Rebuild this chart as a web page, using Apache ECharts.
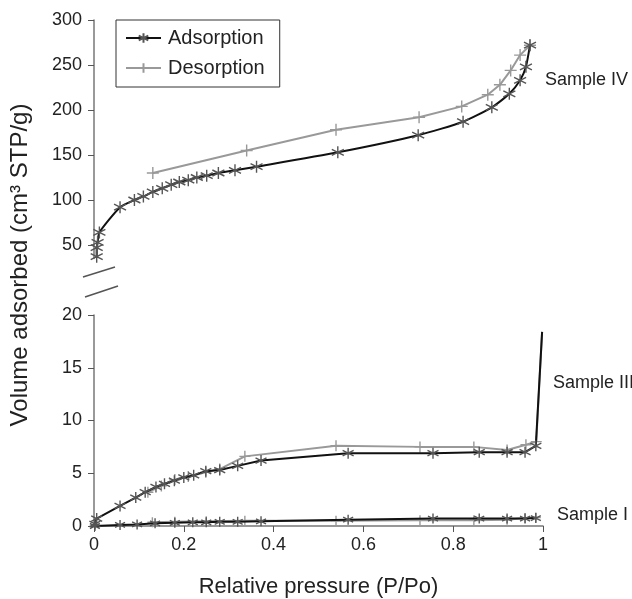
<!DOCTYPE html>
<html>
<head>
<meta charset="utf-8">
<script src="https://cdn.jsdelivr.net/npm/echarts@6/dist/echarts.min.js"></script>
<style>
  html, body { margin: 0; padding: 0; background: #fff; }
  #chart { width: 632px; height: 599px; }
</style>
</head>
<body>
<div id="chart"></div>
<script>
  /* data */
  var ivAdsX = [0.006, 0.006, 0.008, 0.012, 0.058, 0.090, 0.110, 0.131, 0.152, 0.172, 0.190, 0.210, 0.229, 0.251, 0.277, 0.314, 0.362, 0.543, 0.722, 0.822, 0.886, 0.925, 0.949, 0.962, 0.971];
  var ivAdsY = [37, 47, 53, 64, 92, 100, 104, 109, 113, 117, 120, 122, 125, 127, 130, 133, 137, 153, 172, 187, 203, 218, 233, 248, 272];
  var ivDesX = [0.971, 0.949, 0.928, 0.904, 0.877, 0.819, 0.724, 0.539, 0.340, 0.131];
  var ivDesY = [272, 261, 244, 228, 217, 204, 192, 178, 155, 130];

  var iiiAdsX = [0.002, 0.006, 0.058, 0.093, 0.114, 0.138, 0.157, 0.179, 0.200, 0.222, 0.249, 0.280, 0.320, 0.372, 0.566, 0.755, 0.858, 0.920, 0.960, 0.984, 0.998];
  var iiiAdsY = [0.2, 0.7, 1.9, 2.7, 3.2, 3.7, 4.0, 4.3, 4.6, 4.8, 5.2, 5.3, 5.7, 6.2, 6.9, 6.9, 7.0, 7.0, 7.0, 7.6, 18.4];
  var iiiDesX = [0.998, 0.985, 0.962, 0.920, 0.846, 0.726, 0.539, 0.336, 0.280, 0.249, 0.210, 0.180, 0.150, 0.120];
  var iiiDesY = [18.4, 8.0, 7.7, 7.2, 7.5, 7.5, 7.6, 6.6, 5.4, 5.1, 4.7, 4.4, 3.8, 3.2];

  var iAdsX = [0.002, 0.058, 0.096, 0.136, 0.180, 0.220, 0.250, 0.280, 0.320, 0.372, 0.566, 0.755, 0.858, 0.920, 0.960, 0.984];
  var iAdsY = [0.0, 0.1, 0.15, 0.25, 0.3, 0.35, 0.35, 0.4, 0.4, 0.45, 0.6, 0.7, 0.7, 0.7, 0.7, 0.75];
  var iDesX = [0.984, 0.960, 0.920, 0.846, 0.726, 0.539, 0.336, 0.250, 0.180, 0.130];
  var iDesY = [0.8, 0.75, 0.6, 0.55, 0.55, 0.5, 0.5, 0.45, 0.4, 0.35];

  var topTicks = [50, 100, 150, 200, 250, 300];
  var sampleNames = ['Sample IV', 'Sample III', 'Sample I'];

  // zip x/y; points above the break (the spike top) get no marker
  function pairs(xs, ys, noMarkAbove) {
    return xs.map(function (x, i) {
      if (noMarkAbove != null && ys[i] > noMarkAbove) {
        return { value: [x, ys[i]], symbol: 'none' };
      }
      return [x, ys[i]];
    });
  }

  var STAR = 'path://M5,0L5,10M0.7,2.5L9.3,7.5M0.7,7.5L9.3,2.5';
  var PLUS = 'path://M5,0L5,10M0,5L10,5';

  function ads(idx, data, size, smooth) {
    return {
      name: 'Adsorption', type: 'line', xAxisIndex: idx, yAxisIndex: idx,
      data: data, symbol: STAR, symbolSize: size, smooth: smooth || false,
      showAllSymbol: true, z: 3,
      lineStyle: { color: '#111', width: 2 },
      itemStyle: { color: '#555', borderColor: '#555', borderWidth: 1.4 }
    };
  }
  function des(idx, data, size) {
    return {
      name: 'Desorption', type: 'line', xAxisIndex: idx, yAxisIndex: idx,
      data: data, symbol: PLUS, symbolSize: size, showAllSymbol: true, z: 2,
      lineStyle: { color: '#999', width: 2 },
      itemStyle: { color: '#999', borderColor: '#999', borderWidth: 1.4 }
    };
  }

  var chart = echarts.init(document.getElementById('chart'));
  var font = 'Liberation Sans, Arial, sans-serif';

  var option = {
    animation: false,
    textStyle: { fontFamily: font },
    grid: [
      { left: 94, width: 449, top: 20, height: 238.5 },
      { left: 94, width: 449, top: 315, height: 221 }
    ],
    legend: {
      orient: 'vertical', left: 116, top: 20,
      padding: [8, 15, 9, 9], itemGap: 10, itemWidth: 35, itemHeight: 12,
      borderColor: '#333', borderWidth: 1,
      textStyle: { fontSize: 20, color: '#222', fontFamily: font, padding: [0, 0, 0, 2] },
      data: ['Adsorption', 'Desorption']
    },
    xAxis: [
      { gridIndex: 0, type: 'value', min: 0, max: 1, show: false },
      {
        gridIndex: 1, type: 'value', min: 0, max: 1, interval: 0.2,
        name: 'Relative pressure (P/Po)', nameLocation: 'middle', nameGap: 50,
        nameTextStyle: { fontSize: 22, color: '#222' },
        axisLine: { lineStyle: { color: '#777', width: 1.5 } },
        axisTick: { lineStyle: { color: '#555' }, length: 6 },
        axisLabel: { fontSize: 18, color: '#222', margin: 10 },
        splitLine: { show: false }
      }
    ],
    yAxis: [
      {
        gridIndex: 0, type: 'value', min: 35, max: 300,
        axisLine: { show: true, lineStyle: { color: '#777', width: 1.5 } },
        axisTick: { show: true, customValues: topTicks, lineStyle: { color: '#555' }, length: 6 },
        axisLabel: { customValues: topTicks, fontSize: 18, color: '#222', margin: 12 },
        splitLine: { show: false }
      },
      {
        gridIndex: 1, type: 'value', min: 0, max: 20, interval: 5,
        axisLine: { show: true, lineStyle: { color: '#777', width: 1.5 } },
        axisTick: { show: true, lineStyle: { color: '#555' }, length: 6 },
        axisLabel: { fontSize: 18, color: '#222', margin: 12 },
        splitLine: { show: false }
      }
    ],
    graphic: [
      {
        type: 'text', x: 20, y: 265, rotation: Math.PI / 2,
        style: { text: 'Volume adsorbed (cm³ STP/g)', font: '24px ' + font, fill: '#222', align: 'center', verticalAlign: 'middle' }
      },
      { type: 'text', x: 545, y: 80, style: { text: sampleNames[0], font: '18px ' + font, fill: '#222', verticalAlign: 'middle' } },
      { type: 'text', x: 553, y: 383, style: { text: sampleNames[1], font: '18px ' + font, fill: '#222', verticalAlign: 'middle' } },
      { type: 'text', x: 557, y: 515, style: { text: sampleNames[2], font: '18px ' + font, fill: '#222', verticalAlign: 'middle' } },
      /* axis break marks */
      { type: 'line', shape: { x1: 83, y1: 277, x2: 115, y2: 267 }, style: { stroke: '#555', lineWidth: 1.5 } },
      { type: 'line', shape: { x1: 85, y1: 297, x2: 118, y2: 286 }, style: { stroke: '#555', lineWidth: 1.5 } }
    ],
    series: [
      des(0, pairs(ivDesX, ivDesY), 12),
      ads(0, pairs(ivAdsX, ivAdsY), 12, 0.2),
      des(1, pairs(iiiDesX, iiiDesY, 10), 11),
      ads(1, pairs(iiiAdsX, iiiAdsY, 10), 11),
      des(1, pairs(iDesX, iDesY), 10),
      ads(1, pairs(iAdsX, iAdsY), 10)
    ]
  };
  chart.setOption(option);
</script>
</body>
</html>
